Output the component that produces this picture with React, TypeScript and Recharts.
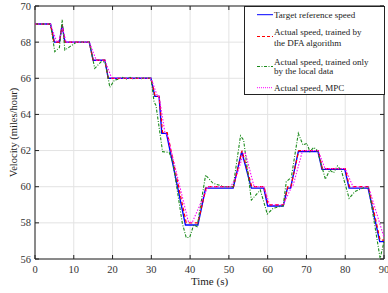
import React from "react";
import { LineChart, Line, XAxis, YAxis, CartesianGrid, ReferenceArea } from "recharts";

// ---- data ----
const targetTime = [0, 4, 5, 6.3, 7, 7.7, 14, 15, 18, 18.9, 29.9, 30.9, 32, 32.7, 33.9, 38.8, 42, 44, 51.1, 53.3, 55.8, 59, 60, 64, 65.1, 65.9, 67.9, 73, 74, 79.9, 81, 85.9, 88.9, 90];
const targetSpeed = [69, 69, 68, 68, 68.95, 68, 68, 67, 67, 66, 66, 65, 65, 62.95, 62.95, 57.88, 57.88, 59.92, 59.92, 61.94, 59.92, 59.92, 58.93, 58.93, 59.92, 59.92, 61.94, 61.94, 60.96, 60.96, 59.92, 59.92, 56.96, 56.96];

const dfaTime = [0, 4, 4.9, 6.3, 7, 7.7, 14, 15, 18, 18.9, 29.9, 31, 32, 32.9, 34.1, 39, 42, 44.2, 51.2, 53.4, 55.9, 59.1, 60.1, 64.1, 65.2, 66, 68, 73.1, 74.1, 80, 81.1, 86, 89, 90];
const dfaSpeed = [69, 69, 68, 68, 68.95, 68, 68, 67, 67, 66, 66, 65, 65, 63, 63, 58, 58, 60, 60, 62, 60, 60, 59, 59, 60, 60, 62, 62, 61, 61, 60, 60, 57.05, 57.05];

const localTime = [0, 4, 5.1, 6.3, 7.0, 7.7, 9, 10.7, 14, 15.4, 17.1, 18.1, 19.3, 20.5, 21.5, 22.5, 23.5, 24.5, 25.5, 26.5, 27.5, 28.5, 29.9, 30.7, 31.2, 32.9, 34.6, 35.6, 38.0, 39.0, 39.9, 40.9, 41.8, 44.0, 45.9, 46.8, 48.8, 51.1, 53.0, 53.8, 55.8, 58.1, 59.9, 61.4, 63, 64.0, 64.8, 66.1, 67.9, 69.1, 70.1, 70.9, 71.9, 72.8, 74.9, 76.0, 77.0, 78.0, 79.0, 81.0, 82.5, 85.4, 86, 89.0, 90];
const localSpeed = [69, 69, 67.47, 67.7, 69.23, 67.56, 67.75, 68, 68, 66.55, 66.92, 66.9, 65.5, 65.9, 65.95, 66.05, 65.95, 66.05, 65.95, 66.05, 65.98, 66.03, 66, 64.7, 64.5, 61.94, 61.9, 61.3, 57.97, 57.18, 57.2, 57.88, 57.79, 60.65, 60.19, 60.13, 60, 60, 62.82, 62.58, 59.26, 59.82, 58.49, 58.8, 58.9, 58.95, 60.28, 60.52, 62.95, 62.31, 62.4, 61.94, 62.18, 62, 60.41, 60.92, 60.77, 61.15, 60.9, 59.36, 59.73, 60, 60, 56.04, 56.95];

const mpcTime = [0, 4, 5.6, 6.2, 7.1, 8, 14, 15.8, 18, 19.8, 29.9, 31.6, 32, 33.5, 34.2, 39.5, 40.5, 44.6, 50.5, 52, 53.7, 54.2, 56.5, 59, 60.5, 64, 66.2, 66.6, 69, 73, 74.8, 80, 82, 86, 90];
const mpcSpeed = [69, 69, 68, 68.1, 68.8, 68, 68, 67, 67, 66, 66, 65, 65, 63, 62.8, 58.1, 58, 60, 60, 60.6, 61.8, 61.9, 60, 60, 59, 59, 60, 60.1, 62, 62, 61, 61, 60, 60, 57.2];

const xTicks = [0, 10, 20, 30, 40, 50, 60, 70, 80, 90];
const yTicks = [56, 58, 60, 62, 64, 66, 68, 70];

const legendLabels = [
  ["Target reference speed"],
  ["Actual speed, trained by", "the DFA algorithm"],
  ["Actual speed, trained only", "by the local data"],
  ["Actual speed, MPC"],
];

const toRows = (ts: number[], vs: number[]) => ts.map((t, i) => ({ t, v: vs[i] }));
const targetData = toRows(targetTime, targetSpeed);
const dfaData = toRows(dfaTime, dfaSpeed);
const localData = toRows(localTime, localSpeed);
const mpcData = toRows(mpcTime, mpcSpeed);

// ---- layout ----
const W = 388;
const H = 293;
const PT = 6;
const PB = 259;
const PL = 35;
const PR = 384;
const FONT = "'Liberation Serif', 'Times New Roman', serif";

const BLUE = "#0000ff";
const RED = "#ff0000";
const GREEN = "#1a8a1a";
const MAGENTA = "#ff00ff";

const XTick = (props: any) => {
  const { x, payload } = props;
  return (
    <g>
      <line x1={x} x2={x} y1={PB} y2={PB - 4} stroke="#222" strokeWidth={1} />
      <line x1={x} x2={x} y1={PT} y2={PT + 4} stroke="#222" strokeWidth={1} />
      <text x={x} y={PB + 14} textAnchor="middle" fontSize={10.5} fontFamily={FONT} fill="#333">
        {payload.value}
      </text>
    </g>
  );
};

const YTick = (props: any) => {
  const { y, payload } = props;
  return (
    <g>
      <line x1={PL} x2={PL + 4} y1={y} y2={y} stroke="#222" strokeWidth={1} />
      <line x1={PR} x2={PR - 4} y1={y} y2={y} stroke="#222" strokeWidth={1} />
      <text x={PL - 4} y={y + 3.5} textAnchor="end" fontSize={10.5} fontFamily={FONT} fill="#333">
        {payload.value}
      </text>
    </g>
  );
};

const sampleStyles = [
  { stroke: BLUE, dash: undefined as string | undefined },
  { stroke: RED, dash: "3 2" },
  { stroke: GREEN, dash: "3 1.5 1 1.5" },
  { stroke: MAGENTA, dash: "1 1" },
];
const legendLineY = [8.7, 30.5, 60.5, 81.7];
const legendTextY = [[8.7], [26.3, 36.7], [55.7, 64.9], [81.7]];

const LegendBox = () => (
  <svg
    width={141}
    height={89}
    style={{ position: "absolute", left: 243.5, top: 5.5, overflow: "visible" }}
  >
    <rect x={0.5} y={0.5} width={140} height={88} fill="#fff" stroke="#222" strokeWidth={1} />
    {legendLabels.map((lines, i) => (
      <g key={i}>
        <line
          x1={13}
          x2={29}
          y1={legendLineY[i]}
          y2={legendLineY[i]}
          stroke={sampleStyles[i].stroke}
          strokeWidth={1}
          strokeDasharray={sampleStyles[i].dash}
        />
        {lines.map((s, j) => (
          <text
            key={j}
            x={30}
            y={legendTextY[i][j]}
            dominantBaseline="central"
            fontSize={9}
            fontFamily={FONT}
            fill="#222"
          >
            {s}
          </text>
        ))}
      </g>
    ))}
  </svg>
);

export default function App() {
  return (
    <div style={{ position: "absolute", left: 0, top: 0, width: W, height: H, background: "#fff" }}>
      <LineChart
        width={W}
        height={H}
        margin={{ top: PT, right: W - PR, bottom: 14, left: 5 }}
        style={{ fontFamily: FONT }}
      >
        <CartesianGrid stroke="#e3e3e3" strokeWidth={1} />
        <XAxis
          type="number"
          dataKey="t"
          domain={[0, 90]}
          ticks={xTicks}
          interval={0}
          tickLine={false}
          axisLine={false}
          height={20}
          tick={<XTick />}
          allowDuplicatedCategory={false}
        />
        <YAxis
          type="number"
          dataKey="v"
          domain={[56, 70]}
          ticks={yTicks}
          interval={0}
          tickLine={false}
          axisLine={false}
          width={30}
          tick={<YTick />}
        />
        <ReferenceArea x1={0} x2={90} y1={56} y2={70} fill="none" stroke="#222" strokeWidth={1} strokeOpacity={1} fillOpacity={0} />
        <Line data={targetData} dataKey="v" type="linear" stroke={BLUE} strokeWidth={1.4} dot={false} isAnimationActive={false} />
        <Line data={dfaData} dataKey="v" type="linear" stroke={RED} strokeWidth={1.2} strokeDasharray="3.5 2.5" dot={false} isAnimationActive={false} />
        <Line data={localData} dataKey="v" type="linear" stroke={GREEN} strokeWidth={1.1} strokeDasharray="3 1.5 1 1.5" dot={false} isAnimationActive={false} />
        <Line data={mpcData} dataKey="v" type="linear" stroke={MAGENTA} strokeWidth={1.1} strokeDasharray="1.5 1.5" dot={false} isAnimationActive={false} />
      </LineChart>
      <div
        style={{
          position: "absolute",
          left: 0,
          top: 0,
          width: 24,
          height: 265,
          pointerEvents: "none",
        }}
      >
        <svg width={24} height={265}>
          <text
            x={0}
            y={0}
            transform={`translate(13, ${(PT + PB) / 2}) rotate(-90)`}
            textAnchor="middle"
            dominantBaseline="central"
            fontSize={10.5}
            fontFamily={FONT}
            fill="#222"
          >
            Velocity (miles/hour)
          </text>
        </svg>
      </div>
      <div style={{ position: "absolute", left: 0, top: 270, width: W, textAlign: "center", pointerEvents: "none" }}>
        <svg width={W} height={20}>
          <text x={(PL + PR) / 2} y={11} textAnchor="middle" dominantBaseline="central" fontSize={11} fontFamily={FONT} fill="#222">
            Time (s)
          </text>
        </svg>
      </div>
      <LegendBox />
    </div>
  );
}
